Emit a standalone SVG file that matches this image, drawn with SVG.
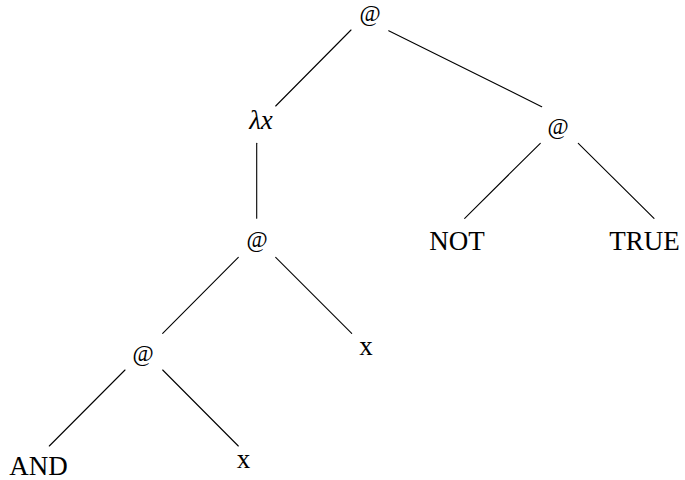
<svg xmlns="http://www.w3.org/2000/svg" width="685" height="480" viewBox="0 0 685 480">
<style>
text { font-family: "Liberation Serif", "Times New Roman", serif; font-size: 27px; fill: #000; text-anchor: middle; }
.it { font-style: italic; }
.at { font-size: 23px; }
.edges line { stroke: #000; stroke-width: 1.1; stroke-linecap: round; }
</style>
<rect width="685" height="480" fill="#fff"/>
<g class="edges" id="connectors">
<line x1="351" y1="30" x2="275.7" y2="106"/>
<line x1="388.7" y1="30.7" x2="541.7" y2="106.7"/>
<line x1="256.7" y1="143.3" x2="256.7" y2="218.3"/>
<line x1="540.3" y1="143.3" x2="464.7" y2="218.3"/>
<line x1="578.3" y1="143.3" x2="654" y2="218.3"/>
<line x1="238.3" y1="257.3" x2="162.7" y2="333.3"/>
<line x1="275.7" y1="257.3" x2="351.7" y2="333.3"/>
<line x1="125" y1="370" x2="49.3" y2="446"/>
<line x1="162.7" y1="370" x2="238.3" y2="446"/>
</g>
<g id="n_root"><text class="at" x="370" y="21">@</text></g>
<g id="n_lambda"><text class="it" x="261" y="129">λx</text></g>
<g id="n_app_right"><text class="at" x="558" y="134">@</text></g>
<g id="n_app_mid"><text class="at" x="257" y="247">@</text></g>
<g id="n_not"><text x="457" y="250">NOT</text></g>
<g id="n_true"><text x="644.5" y="250">TRUE</text></g>
<g id="n_app_low"><text class="at" x="143" y="361">@</text></g>
<g id="n_x1"><text x="366" y="355">x</text></g>
<g id="n_and"><text x="38.5" y="475">AND</text></g>
<g id="n_x2"><text x="243.5" y="468">x</text></g>
</svg>
